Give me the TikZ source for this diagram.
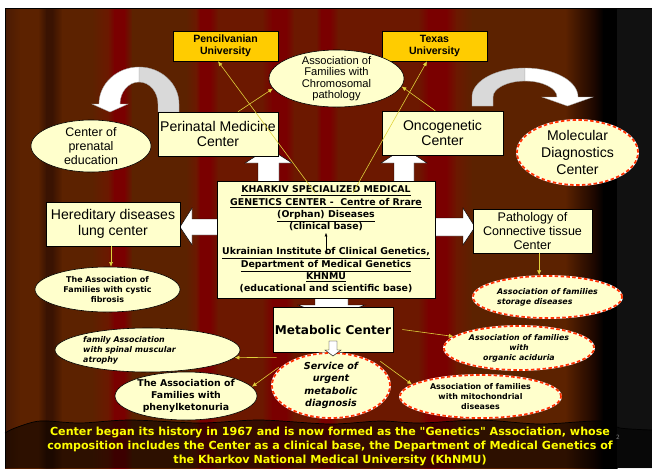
\documentclass[tikz,border=0pt]{standalone}
\usepackage{fontspec}
\setmainfont{Liberation Sans}
\newfontfamily\verd{DejaVu Sans}
\usetikzlibrary{shapes.geometric, arrows.meta, positioning}

\definecolor{paleyellow}{HTML}{FFFFCC}
\definecolor{gold}{HTML}{FFCC00}
\definecolor{linkyellow}{HTML}{E0D23C}
\definecolor{dashred}{HTML}{FF3300}
\definecolor{curtainedge}{HTML}{4A1A04}
\definecolor{fold}{HTML}{3A1302}
\definecolor{velvet}{HTML}{5C2200}
\definecolor{rust}{HTML}{6C1800}
\definecolor{crimson}{HTML}{7A0000}
\definecolor{dusk}{HTML}{3A1400}
\definecolor{dusk2}{HTML}{1A0600}
\definecolor{wing}{HTML}{111111}
\definecolor{notetext}{HTML}{FFFF00}

\begin{document}
\begin{tikzpicture}[x=0.03cm, y=-0.03cm,
    box/.style={draw=black, fill=paleyellow, line width=0.5pt, inner sep=1pt, align=center},
    unibox/.style={draw=black, fill=gold, line width=0.5pt, inner sep=1pt, align=center,
      font=\bfseries\fontsize{9}{10.2}\selectfont, minimum width=3.15cm, minimum height=0.9cm},
    oval/.style={ellipse, draw=black, fill=paleyellow, line width=0.5pt, inner sep=0pt},
    redoval/.style={oval, draw=white, line width=1.5pt,
      postaction={draw=dashred, line width=1.5pt, dash pattern=on 3pt off 2pt}},
    ovaltext/.style={align=center, inner sep=0pt},
    link/.style={draw=linkyellow, line width=0.5pt, -{Latex[length=4pt,width=3.5pt]}},
    blockarrow/.style={fill=white, draw=black, line width=0.4pt},
    bentarrow/.style={draw=black!35, line width=0.3pt},
    note/.style={font=\verd\bfseries\fontsize{9.5}{12.3}\selectfont, text=notetext, align=center, inner sep=0pt}]

  \useasboundingbox (0,0) rectangle (652,468);
  \fill[white] (0,0) rectangle (652,468);

  % curtain folds
  \foreach \x/\c [remember=\x as \lx (initially 5), remember=\c as \lc (initially curtainedge)] in
    {20/velvet, 38/velvet, 46/fold, 52/fold, 62/velvet, 92/velvet, 108/rust, 114/crimson, 124/crimson,
     132/velvet, 186/velvet, 196/rust, 200/crimson, 210/crimson, 218/rust, 262/rust, 272/crimson,
     286/crimson, 294/rust, 316/rust, 321/crimson, 330/crimson, 338/rust, 418/rust, 428/crimson,
     446/crimson, 456/rust, 472/velvet, 565/velvet, 580/dusk, 595/dusk2, 603/black, 617/black}
    \shade[left color=\lc, right color=\c] (\lx,8.5) rectangle (\x+0.6,468);
  \fill[wing] (617,8.5) rectangle (652,468);

  % stage floor under the curtain
  \fill[black, opacity=0.5] plot[smooth] coordinates {(5,433) (15,428) (40,421) (80,423) (130,420)
    (200,423) (260,420) (330,424) (380,421) (420,423) (480,420) (540,424) (600,421) (620,428) (652,430)}
    -- (652,468) -- (5,468) -- cycle;
  \draw[black, line width=0.6pt] plot[smooth] coordinates {(5,433) (15,428) (40,421) (80,423) (130,420)
    (200,423) (260,420) (330,424) (380,421) (420,423) (480,420) (540,424) (600,421) (620,428) (652,430)};
  \draw[black, line width=0.8pt] (5.5,468) -- (5.5,8.5) -- (652,8.5);

  % curved arrows over the top boxes
  \filldraw[bentarrow, fill=black!15] (158,112) -- (158,104) .. controls (158,91.8) and (149.5,82) .. (139,82)
    -- (139,67) .. controls (161.1,67) and (179,83.6) .. (179,104) -- (179,112) -- cycle;
  \filldraw[bentarrow, fill=white] (139,67) .. controls (116.9,67) and (99,83.6) .. (99,104) -- (92,104)
    -- (110,112) -- (128,104) -- (120,104) .. controls (120,91.8) and (128.5,82) .. (139,82) -- cycle;
  \filldraw[bentarrow, fill=black!15] (472,106) -- (472,97) .. controls (472,81) and (495.7,68) .. (525,68)
    -- (525,81) .. controls (507.3,81) and (493,88.2) .. (493,97) -- (493,106) -- cycle;
  \filldraw[bentarrow, fill=white] (525,68) .. controls (554.3,68) and (578,81) .. (578,97) -- (593,97)
    -- (567.5,106) -- (542,97) -- (557,97) .. controls (557,88.2) and (542.7,81) .. (525,81) -- cycle;

  % block arrows out of the main center
  \draw[blockarrow] (258,183) -- (258,163) -- (245,163) -- (268.5,148) -- (292,163) -- (279,163) -- (279,183) -- cycle;
  \draw[blockarrow] (394,183) -- (394,163) -- (381,163) -- (404,148) -- (427,163) -- (414,163) -- (414,183) -- cycle;
  \draw[blockarrow] (220,219) -- (192,219) -- (192,208) -- (180,227) -- (192,245) -- (192,235) -- (220,235) -- cycle;
  \draw[blockarrow] (432,218) -- (463,218) -- (463,208) -- (475,227) -- (463,245) -- (463,236) -- (432,236) -- cycle;
  \draw[blockarrow] (315,296) -- (315,305) -- (298,305) -- (331.5,318) -- (365,305) -- (348,305) -- (348,296) -- cycle;

  \node[unibox] (penn) at (225.5,46) {Pencilvanian\\University};
  \node[unibox] (texas) at (434.5,46) {Texas\\University};
  \node[oval, minimum width=4.05cm, minimum height=1.71cm,
    label={[ovaltext, font=\fontsize{9.5}{9.6}\selectfont]center:{Association of\\Families with\\Chromosomal\\pathology}}]
    (chromo) at (336.5,78.5) {};

  \node[box, minimum width=3.6cm, minimum height=1.32cm, font=\fontsize{12}{13.6}\selectfont]
    (perinatal) at (218,134) {Perinatal Medicine\\Center};
  \node[box, minimum width=3.63cm, minimum height=1.32cm, font=\fontsize{12}{13.6}\selectfont]
    (onco) at (442.5,133) {Oncogenetic\\Center};
  \node[oval, minimum width=3.6cm, minimum height=1.56cm,
    label={[ovaltext, font=\fontsize{10.6}{11.9}\selectfont]center:{Center of\\prenatal\\education}}]
    (prenatal) at (91,146) {};
  \node[redoval, minimum width=3.63cm, minimum height=1.95cm,
    label={[ovaltext, font=\fontsize{12}{14.2}\selectfont]center:{Molecular\\Diagnostics\\Center}}]
    (molecular) at (577.5,152.5) {};

  \node[box, minimum width=6.54cm, minimum height=3.51cm, font=\verd\bfseries\fontsize{8}{10.5}\selectfont]
    (kharkiv) at (326,239.5) {\underline{KHARKIV SPECIALIZED MEDICAL}\\
      \underline{GENETICS CENTER -\ \ Centre of Rrare}\\
      \underline{(Orphan) Diseases}\\
      (clinical base)\\[10.8pt]
      \underline{Ukrainian Institute of Clinical Genetics,}\\
      \underline{Department of Medical Genetics}\\
      \underline{KHNMU}\\
      (educational and scientific base)};
  \draw[{Latex[length=3pt,width=2.5pt]}-{Latex[length=3pt,width=2.5pt]}, line width=0.4pt]
    ([yshift=0.2cm]kharkiv.center) -- ([yshift=-0.46cm]kharkiv.center);

  \node[box, minimum width=4.02cm, minimum height=1.32cm, font=\fontsize{12}{13.6}\selectfont]
    (hered) at (113,224) {Hereditary diseases\\lung center};
  \node[box, minimum width=3.57cm, minimum height=1.32cm, font=\fontsize{10.7}{11.9}\selectfont]
    (patho) at (532.5,231) {Pathology of\\Connective tissue\\Center};
  \node[oval, minimum width=4.35cm, minimum height=1.35cm,
    label={[ovaltext, font=\verd\bfseries\fontsize{6.8}{8.2}\selectfont]center:{The Association of\\Families with cystic\\fibrosis}}]
    (cystic) at (107.5,289.5) {};
  \node[redoval, minimum width=4.47cm, minimum height=1.26cm,
    label={[ovaltext, align=left, font=\verd\bfseries\itshape\fontsize{6.75}{8.5}\selectfont]center:{Association of families\\storage diseases}}]
    (storage) at (547.5,297) {};

  \node[box, minimum width=3.6cm, minimum height=1.35cm, font=\verd\bfseries\fontsize{10.3}{12}\selectfont]
    (metabolic) at (333,329.5) {Metabolic Center};
  \node[redoval, minimum width=3.54cm, minimum height=1.95cm,
    label={[ovaltext, font=\verd\bfseries\itshape\fontsize{8.2}{10.5}\selectfont]center:{Service of\\urgent\\metabolic\\diagnosis}}]
    (service) at (331,385.5) {};
  \node[oval, minimum width=5.55cm, minimum height=1.32cm,
    label={[ovaltext, align=left, xshift=-0.54cm, font=\verd\bfseries\itshape\fontsize{6.75}{8.5}\selectfont]center:{family Association\\with spinal muscular\\atrophy}}]
    (spinal) at (147.5,350) {};
  \node[oval, minimum width=4.26cm, minimum height=1.44cm,
    label={[ovaltext, font=\verd\bfseries\fontsize{8}{10.6}\selectfont]center:{The Association of\\Families with\\phenylketonuria}}]
    (phenyl) at (186,396) {};
  \node[redoval, minimum width=4.5cm, minimum height=1.32cm,
    label={[ovaltext, font=\verd\bfseries\itshape\fontsize{6.7}{8.5}\selectfont]center:{Association of families\\with\\organic aciduria}}]
    (organic) at (519,348) {};
  \node[redoval, minimum width=4.83cm, minimum height=1.29cm,
    label={[ovaltext, font=\verd\bfseries\fontsize{6.75}{8.9}\selectfont]center:{Association of families\\with mitochondrial\\diseases}}]
    (mito) at (480.5,396.5) {};

  % small arrow from the metabolic center into the service
  \draw[blockarrow] (329,341) -- (329,350) -- (325,350) -- (333,356) -- (341,350) -- (337,350) -- (337,341) -- cycle;

  % links
  \draw[link] ([xshift=0.6cm]perinatal.north) -- (chromo.189);
  \draw[link] ([xshift=-0.22cm]onco.north) -- (chromo.353);
  \draw[link] ([xshift=-0.33cm,yshift=-0.36cm]kharkiv.north) -- ([xshift=-0.225cm]penn.south);
  \draw[link] ([xshift=0.81cm,yshift=-0.36cm]kharkiv.north) -- ([xshift=-0.225cm]texas.south);
  \draw[link] ([xshift=-0.06cm]hered.south) -- ([xshift=-0.06cm]hered.south |- cystic.north);
  \draw[link] ([xshift=0.2cm]patho.south) -- ([xshift=0.2cm]patho.south |- storage.north);
  \draw[link] ([xshift=0.27cm]metabolic.east) -- (organic.170);
  \draw[link] ([xshift=0.12cm,yshift=-0.15cm]metabolic.south west) -- (spinal.355);
  \draw[link] ([xshift=0.18cm,yshift=-0.45cm]metabolic.south west) -- (phenyl.8);
  \draw[link] ([xshift=-0.39cm,yshift=-0.27cm]metabolic.south east) -- (mito.170);

  \node[note] (history) at (330,446.5) {Center began its history in 1967 and is now formed as the "Genetics" Association, whose\\
    composition includes the Center as a clinical base, the Department of Medical Genetics of\\
    the Kharkov National Medical University (KhNMU)};
  \node[font=\verd\fontsize{5}{5}\selectfont, text=gray, inner sep=0pt] (slideno) at (618,437) {2};
\end{tikzpicture}
\end{document}
